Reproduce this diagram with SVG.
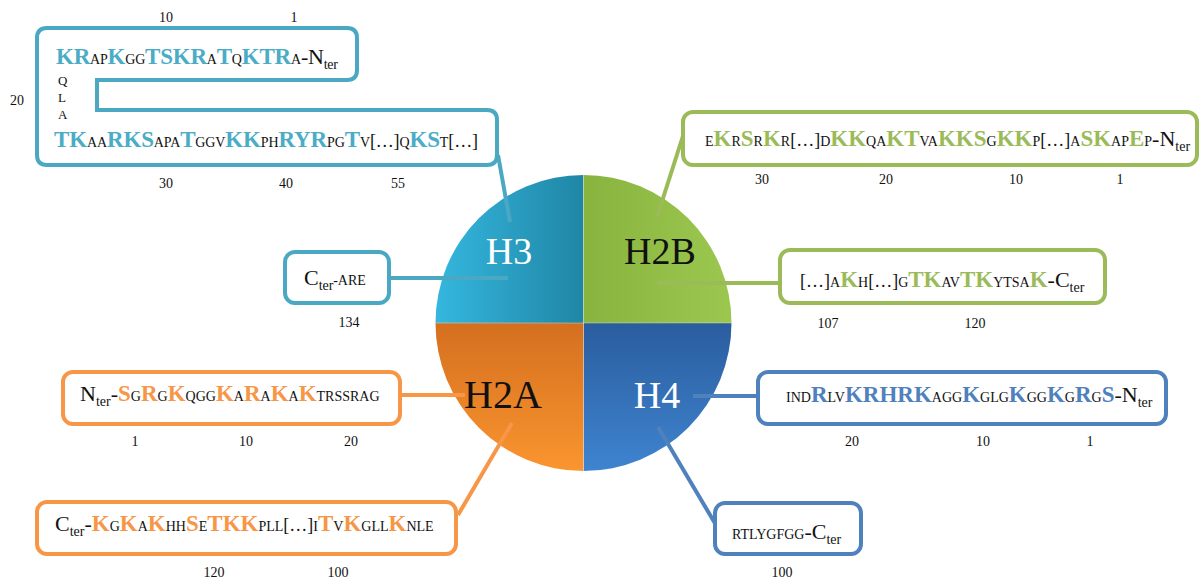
<svg xmlns="http://www.w3.org/2000/svg" width="1202" height="581" viewBox="0 0 1202 581" font-family="'Liberation Serif', 'DejaVu Serif', serif">
<defs>
<linearGradient id="gH3" x1="0" y1="0" x2="1" y2="0"><stop offset="0" stop-color="#35B7DF"/><stop offset="1" stop-color="#1F86A5"/></linearGradient>
<linearGradient id="gH2B" x1="0" y1="0" x2="1" y2="0"><stop offset="0" stop-color="#88B43F"/><stop offset="1" stop-color="#9CC74F"/></linearGradient>
<linearGradient id="gH2A" x1="0" y1="0" x2="0" y2="1"><stop offset="0" stop-color="#D46F1F"/><stop offset="1" stop-color="#FA952F"/></linearGradient>
<linearGradient id="gH4" x1="0" y1="0" x2="0" y2="1"><stop offset="0" stop-color="#2A5D9E"/><stop offset="1" stop-color="#3F84D0"/></linearGradient>
<style>
text{font-family:'Liberation Serif','DejaVu Serif',serif;fill:#111}
.b{font-weight:bold;font-size:23px}
.s{font-size:14px}
.m{font-size:18px}
.n{font-size:22px}
.sub{font-size:14px}
.num{font-size:14px;text-anchor:middle}
.lab{font-size:38px;text-anchor:middle}
.c3{fill:#4BACC6}.c2b{fill:#9BBB59}.c2a{fill:#F79646}.c4{fill:#4F81BD}
.box{fill:#fff;stroke-width:4}
.k3{stroke:#4AA8C2}.k2b{stroke:#9BBB59}.k2a{stroke:#F79646}.k4{stroke:#4F81BD}
.ln{stroke-width:4;fill:none}
</style>
</defs>

<g id="circle">
<path d="M583.5,323 L435.5,323 A148,148 0 0 1 583.5,175 Z" fill="url(#gH3)"/>
<path d="M583.5,323 L583.5,175 A148,148 0 0 1 731.5,323 Z" fill="url(#gH2B)"/>
<path d="M583.5,323 L731.5,323 A148,148 0 0 1 583.5,471 Z" fill="url(#gH4)"/>
<path d="M583.5,323 L583.5,471 A148,148 0 0 1 435.5,323 Z" fill="url(#gH2A)"/>
<path d="M583.5,175 V471 M435.5,323 H731.5" stroke="#fff" stroke-opacity="0.35" stroke-width="1"/>
</g>

<g id="connectors">
<line class="ln k3" x1="498" y1="155" x2="510" y2="222"/>
<line class="ln k2b" x1="690" y1="114" x2="657" y2="217"/>
<line class="ln k3" x1="385" y1="278" x2="508" y2="278"/>
<line class="ln k2b" x1="657" y1="283" x2="785" y2="283"/>
<line class="ln k2a" x1="398" y1="395" x2="465" y2="395"/>
<line class="ln k4" x1="693" y1="396" x2="762" y2="396"/>
<line class="ln k2a" x1="512" y1="423" x2="458" y2="515"/>
<line class="ln k4" x1="658" y1="427" x2="716" y2="525"/>
</g>

<g id="labels">
<text class="lab" x="509" y="264" style="fill:#fff">H3</text>
<text class="lab" x="660" y="264">H2B</text>
<text class="lab" x="503" y="408" style="font-size:40px">H2A</text>
<text class="lab" x="657" y="408" style="fill:#fff">H4</text>
</g>

<g id="H3-N">
<path class="box k3" d="M47,28 H347 Q357,28 357,38 V70 Q357,80 347,80 H97 V110 H487 Q497,110 497,120 V155 Q497,165 487,165 H47 Q37,165 37,155 V38 Q37,28 47,28 Z"/>
<text x="56" y="64" textLength="282"><tspan class="b c3">KR</tspan><tspan class="s">AP</tspan><tspan class="b c3">K</tspan><tspan class="s">GG</tspan><tspan class="b c3">TSKR</tspan><tspan class="s">A</tspan><tspan class="b c3">T</tspan><tspan class="s">Q</tspan><tspan class="b c3">KTR</tspan><tspan class="s">A</tspan><tspan class="n">-N</tspan><tspan class="sub" dy="5">ter</tspan></text>
<text class="s" x="58" y="85" style="font-size:13px">Q</text>
<text class="s" x="58" y="102" style="font-size:13px">L</text>
<text class="s" x="58" y="119" style="font-size:13px">A</text>
<text x="54" y="147" textLength="424"><tspan class="b c3">TK</tspan><tspan class="s">AA</tspan><tspan class="b c3">RKS</tspan><tspan class="s">APA</tspan><tspan class="b c3">T</tspan><tspan class="s">GGV</tspan><tspan class="b c3">KK</tspan><tspan class="s">PH</tspan><tspan class="b c3">RYR</tspan><tspan class="s">PG</tspan><tspan class="b c3">T</tspan><tspan class="s">V</tspan><tspan class="m">[…]</tspan><tspan class="s">Q</tspan><tspan class="b c3">KS</tspan><tspan class="s">T</tspan><tspan class="m">[…]</tspan></text>
<text class="num" x="166" y="22">10</text>
<text class="num" x="294" y="22">1</text>
<text class="num" x="17" y="105">20</text>
<text class="num" x="166" y="188">30</text>
<text class="num" x="286" y="188">40</text>
<text class="num" x="398" y="188">55</text>
</g>

<g id="H3-C">
<rect class="box k3" x="285" y="252" width="104" height="51" rx="10"/>
<text x="304" y="285"><tspan class="n">C</tspan><tspan class="sub" dy="5">ter</tspan><tspan class="s" dy="-5">-ARE</tspan></text>
<text class="num" x="349" y="327">134</text>
</g>

<g id="H2B-N">
<rect class="box k2b" x="683" y="112" width="514" height="53" rx="10"/>
<text x="705" y="146"><tspan class="s">E</tspan><tspan class="b c2b">K</tspan><tspan class="s">R</tspan><tspan class="b c2b">S</tspan><tspan class="s">R</tspan><tspan class="b c2b">K</tspan><tspan class="s">R</tspan><tspan class="m">[…]</tspan><tspan class="s">D</tspan><tspan class="b c2b">KK</tspan><tspan class="s">QA</tspan><tspan class="b c2b">KT</tspan><tspan class="s">VA</tspan><tspan class="b c2b">KKS</tspan><tspan class="s">G</tspan><tspan class="b c2b">KK</tspan><tspan class="s">P</tspan><tspan class="m">[…]</tspan><tspan class="s">A</tspan><tspan class="b c2b">SK</tspan><tspan class="s">AP</tspan><tspan class="b c2b">E</tspan><tspan class="s">P</tspan><tspan class="n">-N</tspan><tspan class="sub" dy="5">ter</tspan></text>
<text class="num" x="762" y="184">30</text>
<text class="num" x="886" y="184">20</text>
<text class="num" x="1016" y="184">10</text>
<text class="num" x="1120" y="184">1</text>
</g>

<g id="H2B-C">
<rect class="box k2b" x="780" y="250" width="325" height="53" rx="10"/>
<text x="800" y="287"><tspan class="m">[…]</tspan><tspan class="s">A</tspan><tspan class="b c2b">K</tspan><tspan class="s">H</tspan><tspan class="m">[…]</tspan><tspan class="s">G</tspan><tspan class="b c2b">TK</tspan><tspan class="s">AV</tspan><tspan class="b c2b">TK</tspan><tspan class="s">YTSA</tspan><tspan class="b c2b">K</tspan><tspan class="n">-C</tspan><tspan class="sub" dy="5">ter</tspan></text>
<text class="num" x="828" y="328">107</text>
<text class="num" x="975" y="328">120</text>
</g>

<g id="H2A-N">
<rect class="box k2a" x="63" y="372" width="337" height="52" rx="10"/>
<text x="80" y="401"><tspan class="n">N</tspan><tspan class="sub" dy="5">ter</tspan><tspan class="n" dy="-5">-</tspan><tspan class="b c2a">S</tspan><tspan class="s">G</tspan><tspan class="b c2a">R</tspan><tspan class="s">G</tspan><tspan class="b c2a">K</tspan><tspan class="s">QGG</tspan><tspan class="b c2a">K</tspan><tspan class="s">A</tspan><tspan class="b c2a">R</tspan><tspan class="s">A</tspan><tspan class="b c2a">K</tspan><tspan class="s">A</tspan><tspan class="b c2a">K</tspan><tspan class="s">TRSSRAG</tspan></text>
<text class="num" x="135" y="446">1</text>
<text class="num" x="246" y="446">10</text>
<text class="num" x="351" y="446">20</text>
</g>

<g id="H2A-C">
<rect class="box k2a" x="37" y="502" width="419" height="52" rx="10"/>
<text x="55" y="531"><tspan class="n">C</tspan><tspan class="sub" dy="5">ter</tspan><tspan class="n" dy="-5">-</tspan><tspan class="b c2a">K</tspan><tspan class="s">G</tspan><tspan class="b c2a">K</tspan><tspan class="s">A</tspan><tspan class="b c2a">K</tspan><tspan class="s">HH</tspan><tspan class="b c2a">S</tspan><tspan class="s">E</tspan><tspan class="b c2a">TKK</tspan><tspan class="s">PLL</tspan><tspan class="m">[…]</tspan><tspan class="s">I</tspan><tspan class="b c2a">T</tspan><tspan class="s">V</tspan><tspan class="b c2a">K</tspan><tspan class="s">GLL</tspan><tspan class="b c2a">K</tspan><tspan class="s">NLE</tspan></text>
<text class="num" x="214" y="577">120</text>
<text class="num" x="338" y="577">100</text>
</g>

<g id="H4-N">
<rect class="box k4" x="758" y="372" width="408" height="52" rx="10"/>
<text x="786" y="402"><tspan class="s">IND</tspan><tspan class="b c4">R</tspan><tspan class="s">LV</tspan><tspan class="b c4">KRHRK</tspan><tspan class="s">AGG</tspan><tspan class="b c4">K</tspan><tspan class="s">GLG</tspan><tspan class="b c4">K</tspan><tspan class="s">GG</tspan><tspan class="b c4">K</tspan><tspan class="s">G</tspan><tspan class="b c4">R</tspan><tspan class="s">G</tspan><tspan class="b c4">S</tspan><tspan class="n">-N</tspan><tspan class="sub" dy="5">ter</tspan></text>
<text class="num" x="852" y="446">20</text>
<text class="num" x="983" y="446">10</text>
<text class="num" x="1090" y="446">1</text>
</g>

<g id="H4-C">
<rect class="box k4" x="715" y="503" width="146" height="51" rx="10"/>
<text x="732" y="539"><tspan class="s">RTLYGFGG</tspan><tspan class="n">-C</tspan><tspan class="sub" dy="5">ter</tspan></text>
<text class="num" x="782" y="577">100</text>
</g>
</svg>
